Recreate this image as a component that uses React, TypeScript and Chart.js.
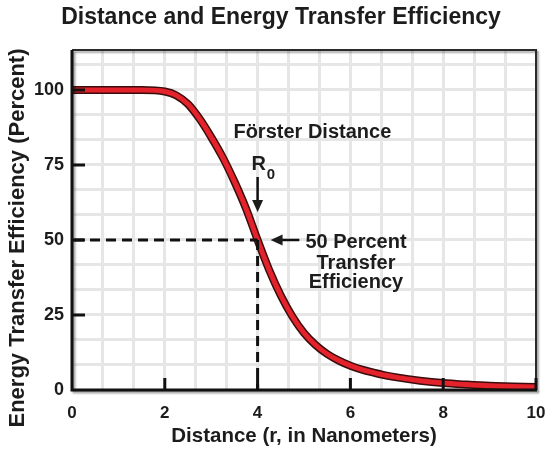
import React, { useEffect, useRef } from 'react';
import { Chart, registerables } from 'chart.js';

Chart.register(...registerables);

// ---- data ----
const distances = [0, 0.5, 1, 1.5, 2, 2.25, 2.5, 2.75, 3, 3.25, 3.5, 3.75, 4, 4.25, 4.5, 4.75, 5, 5.25, 5.5, 5.75, 6, 6.25, 6.5, 6.75, 7, 7.5, 8, 8.5, 9, 9.5, 10];
const efficiency = [100, 100, 100, 100, 99.5, 98.2, 95.3, 90.4, 84.3, 77.5, 69.5, 60.5, 50, 40, 31.5, 24.5, 19, 15, 12, 9.8, 8.1, 6.8, 5.8, 4.9, 4.2, 3.1, 2.3, 1.8, 1.4, 1.2, 1];
const xTicks = [0, 2, 4, 6, 8, 10];
const yTicks = [0, 25, 50, 75, 100];
const forsterDistance = 4;
const halfEfficiency = 50;

const titleText = 'Distance and Energy Transfer Efficiency';
const xTitle = 'Distance (r, in Nanometers)';
const yTitle = 'Energy Transfer Efficiency (Percent)';
const label1 = 'Förster Distance';
const label2 = 'R';
const label2sub = '0';
const label3 = ['50 Percent', 'Transfer', 'Efficiency'];

const FONT = '"Liberation Sans", Arial, Helvetica, sans-serif';
const INK = '#1c1c1c';

const overlayPlugin = {
  id: 'overlay',
  afterDatasetsDraw(chart: any) {
    const { ctx, chartArea: a, scales } = chart;
    const xs = scales.x;
    const ys = scales.y;
    const px = (v: number) => xs.getPixelForValue(v);
    const py = (v: number) => ys.getPixelForValue(v);
    ctx.save();

    // dashed guide lines
    ctx.strokeStyle = '#111';
    ctx.lineWidth = 3;
    ctx.setLineDash([10, 6]);
    ctx.beginPath();
    ctx.moveTo(a.left + 2, py(halfEfficiency));
    ctx.lineTo(px(forsterDistance), py(halfEfficiency));
    ctx.stroke();
    ctx.beginPath();
    ctx.moveTo(px(forsterDistance), py(halfEfficiency));
    ctx.lineTo(px(forsterDistance), a.bottom);
    ctx.stroke();
    ctx.setLineDash([]);

    // frame (top & right) with shadow
    ctx.save();
    ctx.shadowColor = 'rgba(0,0,0,0.35)';
    ctx.shadowOffsetX = 2;
    ctx.shadowOffsetY = 2;
    ctx.shadowBlur = 2;
    ctx.strokeStyle = '#2a2a2a';
    ctx.lineWidth = 2;
    ctx.beginPath();
    ctx.moveTo(a.left, a.top);
    ctx.lineTo(a.right, a.top);
    ctx.lineTo(a.right, a.bottom);
    ctx.stroke();
    // axes
    ctx.strokeStyle = '#111';
    ctx.lineWidth = 3;
    ctx.beginPath();
    ctx.moveTo(a.left, a.top);
    ctx.lineTo(a.left, a.bottom);
    ctx.lineTo(a.right + 1, a.bottom);
    ctx.stroke();
    ctx.restore();

    // inward tick marks
    ctx.strokeStyle = '#111';
    ctx.lineWidth = 3;
    ctx.beginPath();
    yTicks.forEach((v) => {
      if (v === 0) return;
      ctx.moveTo(a.left, py(v));
      ctx.lineTo(a.left + 13, py(v));
    });
    xTicks.forEach((v) => {
      if (v === 0) return;
      ctx.moveTo(px(v), a.bottom);
      ctx.lineTo(px(v), a.bottom - 12);
    });
    ctx.stroke();

    // annotations
    ctx.fillStyle = INK;
    ctx.font = `bold 20px ${FONT}`;
    ctx.textAlign = 'center';
    ctx.textBaseline = 'middle';
    ctx.fillText(label1, px(5.18), py(85.7));

    const rx = px(forsterDistance) + 1;
    const ry = py(75.3);
    ctx.fillText(label2, rx, ry);
    const rw = ctx.measureText(label2).width;
    ctx.font = `bold 15px ${FONT}`;
    ctx.textAlign = 'left';
    ctx.fillText(label2sub, rx + rw / 2 + 1, ry + 11);

    // down arrow to R0
    const ax = px(forsterDistance);
    const aTop = py(71);
    const aTip = py(59.3);
    ctx.strokeStyle = '#111';
    ctx.lineWidth = 2.5;
    ctx.beginPath();
    ctx.moveTo(ax, aTop);
    ctx.lineTo(ax, aTip - 8);
    ctx.stroke();
    ctx.beginPath();
    ctx.moveTo(ax, aTip);
    ctx.lineTo(ax - 5.5, aTip - 12);
    ctx.lineTo(ax + 5.5, aTip - 12);
    ctx.closePath();
    ctx.fill();

    // left arrow to 50 percent point
    const ly = py(halfEfficiency);
    const lTip = px(4.28);
    const lTail = px(4.9);
    ctx.beginPath();
    ctx.moveTo(lTail, ly);
    ctx.lineTo(lTip + 8, ly);
    ctx.stroke();
    ctx.beginPath();
    ctx.moveTo(lTip, ly);
    ctx.lineTo(lTip + 12, ly - 5.5);
    ctx.lineTo(lTip + 12, ly + 5.5);
    ctx.closePath();
    ctx.fill();

    ctx.font = `bold 20px ${FONT}`;
    ctx.textAlign = 'left';
    ctx.fillText(label3[0], px(5.03), py(49.3));
    ctx.textAlign = 'center';
    ctx.fillText(label3[1], px(6.12), py(42.3));
    ctx.fillText(label3[2], px(6.12), py(35.7));

    ctx.restore();
  },
  afterDraw(chart: any) {
    const { ctx } = chart;
    ctx.save();
    ctx.fillStyle = INK;
    ctx.font = `bold 22px ${FONT}`;
    ctx.textAlign = 'center';
    ctx.textBaseline = 'middle';
    ctx.translate(18, 238);
    ctx.rotate(-Math.PI / 2);
    ctx.fillText(yTitle, 0, 0);
    ctx.restore();
  },
};

export default function App() {
  const ref = useRef<HTMLCanvasElement | null>(null);

  useEffect(() => {
    if (!ref.current) return;
    const points = distances.map((d, i) => ({ x: d, y: efficiency[i] }));
    const chart = new Chart(ref.current, {
      type: 'line',
      data: {
        datasets: [
          {
            label: 'Efficiency',
            data: points,
            borderColor: '#e4222b',
            borderWidth: 5,
            pointRadius: 0,
            cubicInterpolationMode: 'monotone',
            fill: false,
          },
          {
            label: 'outline',
            data: points,
            borderColor: '#3a0c0c',
            borderWidth: 8,
            pointRadius: 0,
            cubicInterpolationMode: 'monotone',
            fill: false,
          },
        ],
      },
      options: {
        animation: false,
        responsive: false,
        layout: { padding: { left: 16, right: 0, top: 0, bottom: 0 } },
        plugins: {
          legend: { display: false },
          tooltip: { enabled: false },
          title: {
            display: true,
            text: titleText,
            color: INK,
            font: { family: FONT, size: 23, weight: 'bold' },
            padding: { top: 4, bottom: 18.4 },
          },
        },
        scales: {
          x: {
            type: 'linear',
            min: 0,
            max: 10,
            position: 'bottom',
            afterBuildTicks: (s: any) => {
              s.ticks = xTicks.map((v) => ({ value: v }));
            },
            afterFit: (s: any) => {
              s.height = 60;
              s.paddingLeft = 0;
              s.paddingRight = 10;
            },
            grid: { display: false, drawTicks: false },
            border: { display: false },
            ticks: {
              color: INK,
              padding: 13,
              maxRotation: 0,
              font: { family: FONT, size: 17, weight: 'bold' },
            },
            title: {
              display: true,
              text: xTitle,
              color: INK,
              font: { family: FONT, size: 20.5, weight: 'bold' },
              padding: { top: 0, bottom: 1 },
            },
          },
          x2: {
            type: 'linear',
            min: 0,
            max: 10,
            position: 'bottom',
            ticks: { display: false, stepSize: 10 / 15 },
            grid: { display: true, drawTicks: false, color: '#e6e6e6', lineWidth: 3 },
            border: { display: false },
            afterFit: (s: any) => {
              s.height = 0;
              s.paddingLeft = 0;
              s.paddingRight = 0;
            },
          },
          y: {
            type: 'linear',
            min: 0,
            max: 113.33,
            position: 'left',
            afterBuildTicks: (s: any) => {
              s.ticks = yTicks.map((v) => ({ value: v }));
            },
            afterFit: (s: any) => {
              s.width = 56;
              s.paddingTop = 0;
              s.paddingBottom = 0;
            },
            grid: { display: false, drawTicks: false },
            border: { display: false },
            ticks: {
              color: INK,
              padding: 8,
              font: { family: FONT, size: 18, weight: 'bold' },
            },
          },
          y2: {
            type: 'linear',
            min: 0,
            max: 113.33,
            position: 'left',
            ticks: { display: false, stepSize: 100 / 12, includeBounds: false },
            grid: { display: true, drawTicks: false, color: '#e6e6e6', lineWidth: 3 },
            border: { display: false },
            afterFit: (s: any) => {
              s.width = 0;
              s.paddingTop = 0;
              s.paddingBottom = 0;
            },
          },
        },
      },
      plugins: [overlayPlugin],
    } as any);
    return () => chart.destroy();
  }, []);

  return (
    <div style={{ position: 'fixed', left: 0, top: 0, width: 546, height: 450, background: '#fff' }}>
      <canvas ref={ref} width={546} height={450} style={{ display: 'block' }} />
    </div>
  );
}
